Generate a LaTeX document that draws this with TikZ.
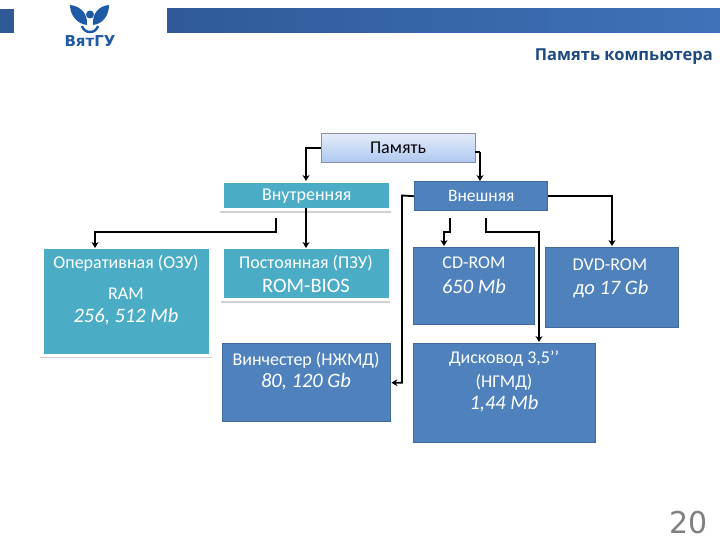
\documentclass[tikz,border=0pt]{standalone}
\usepackage{fontspec}
\setmainfont{Carlito}
\newfontfamily\headfont{DejaVu Sans}
\newfontfamily\titlefont{Open Sans}
\usetikzlibrary{arrows.meta}
\definecolor{bandleft}{HTML}{2F5A97}
\definecolor{bandright}{HTML}{3F72B8}
\definecolor{tealbox}{HTML}{4BACC6}
\definecolor{bluebox}{HTML}{4F81BD}
\definecolor{blueedge}{HTML}{41699B}
\definecolor{logoblue}{HTML}{1F5AA6}
\definecolor{titleblue}{HTML}{1F4A80}
\definecolor{memtop}{HTML}{E4ECFA}
\definecolor{membottom}{HTML}{AEC8F0}

\begin{document}
\begin{tikzpicture}[
    x=1pt, y=-1pt,
    tealnode/.style={fill=tealbox, text=white, anchor=north west, inner sep=0pt, align=center},
    bluenode/.style={fill=bluebox, draw=blueedge, line width=1.4pt, text=white, anchor=north west, inner sep=0pt, align=center},
    boxtext/.style={text=white, inner sep=0pt, font=\fontsize{18}{20}\selectfont},
    sizetext/.style={text=white, inner sep=0pt, font=\fontsize{20.5}{22}\selectfont\itshape},
    shadowline/.style={draw=black!18, line width=1.4pt},
    link/.style={draw=black, line width=1.8pt, -{Stealth[length=6pt,width=7pt]}},
    toplink/.style={draw=black, line width=1.8pt}
]
    \useasboundingbox (0,0) rectangle (720,540);
    \fill[white] (0,0) rectangle (720,540);
    % top band and logo
    \fill[bandleft] (0,9) rectangle (14,33);
    \shade[left color=bandleft, right color=bandright] (167,9) rectangle (720,33);
    \fill[logoblue] (70,5) .. controls (80,6) and (88,13) .. (87,25) .. controls (77,24) and (70,15) .. (70,5);
    \fill[logoblue] (109,5) .. controls (99,6) and (92,13) .. (93,25) .. controls (103,24) and (109,15) .. (109,5);
    \fill[logoblue] (90,14.5) circle (4);
    \draw[logoblue, line width=2.4pt] (82,26) .. controls (84,34) and (96,34) .. (98,26);
    \node[text=logoblue, inner sep=0pt] (logo) at (90,41.5) {\headfont\bfseries\fontsize{15}{16}\selectfont ВятГУ};
    \node[text=titleblue, anchor=east, inner sep=0pt] (title) at (713,57) {\titlefont\bfseries\fontsize{16.5}{19}\selectfont Память компьютера};
    \node[text=black!50, anchor=east, inner sep=0pt] (page) at (708,523) {\headfont\fontsize{30}{32}\selectfont 20};
    % boxes
    \node[draw=blue!20!black!45, top color=memtop, bottom color=membottom, minimum width=154pt, minimum height=29pt, inner sep=0pt, font=\fontsize{18}{20}\selectfont] (mem) at (398,148) {Память};
    \node[tealnode, minimum width=165pt, minimum height=25pt, font=\fontsize{18}{20}\selectfont] (inner) at (224,183) {Внутренняя};
    \node[bluenode, minimum width=133pt, minimum height=29pt, font=\fontsize{17.5}{20}\selectfont] (outer) at (414,181) {Внешняя};
    \node[tealnode, minimum width=165pt, minimum height=105pt] (ram) at (44,249) {};
    \node[tealnode, minimum width=165pt, minimum height=49pt] (rom) at (224,249) {};
    \node[bluenode, minimum width=168pt, minimum height=78pt] (hdd) at (222,343) {};
    \node[bluenode, minimum width=121pt, minimum height=77pt] (cd) at (413,247) {};
    \node[bluenode, minimum width=133pt, minimum height=80pt] (dvd) at (545,247) {};
    \node[bluenode, minimum width=182pt, minimum height=99pt] (fdd) at (413,343) {};
    % texts in the boxes
    \node[boxtext] (ramname) at (126,263) {Оперативная (ОЗУ)};
    \node[boxtext] (ramkind) at (126,294) {RAM};
    \node[sizetext] (ramsize) at (126,317) {256, 512 Mb};
    \node[boxtext] (romname) at (306,263) {Постоянная (ПЗУ)};
    \node[boxtext, font=\fontsize{20.5}{22}\selectfont] (romkind) at (306,286) {ROM-BIOS};
    \node[boxtext] (hddname) at (306,360) {Винчестер (НЖМД)};
    \node[sizetext] (hddsize) at (306,382) {80, 120 Gb};
    \node[boxtext] (cdname) at (474,263) {CD-ROM};
    \node[sizetext] (cdsize) at (474,286) {650 Mb};
    \node[boxtext] (dvdname) at (610,265) {DVD-ROM};
    \node[sizetext] (dvdsize) at (611,289) {до 17 Gb};
    \node[boxtext] (fddname) at (504,359) {Дисковод 3,5’’};
    \node[boxtext] (fddtype) at (504,382) {(НГМД)};
    \node[sizetext] (fddsize) at (504,404) {1,44 Mb};
    % grey lines under the teal boxes
    \draw[shadowline] (220,212) -- (391,212);
    \draw[shadowline] (40,357.5) -- (212,357.5);
    \draw[shadowline] (221,302) -- (390,302);
    % free ends under the boxes
    \coordinate (ramstart) at (276,218);
    \coordinate (cdstart) at (450,218);
    \coordinate (fddstart) at (486,218);
    % connectors
    \draw[link] (mem.west) -| (306,181);
    \draw[toplink] (475,152) -- (480,152);
    \draw[link] (480,152) -- (480,181);
    \draw[link] (306,208) -- (306,248);
    \draw[link] (ramstart) |- (95,232) -- (95,248);
    \draw[link] (outer.west) -- (402,195.5) |- (hdd.east);
    \draw[link] (outer.east) -| (612,246);
    \draw[link] (cdstart) |- (444,232) -- (444,246);
    \draw[link] (fddstart) |- (539,232) -- (539,342);
\end{tikzpicture}
\end{document}
